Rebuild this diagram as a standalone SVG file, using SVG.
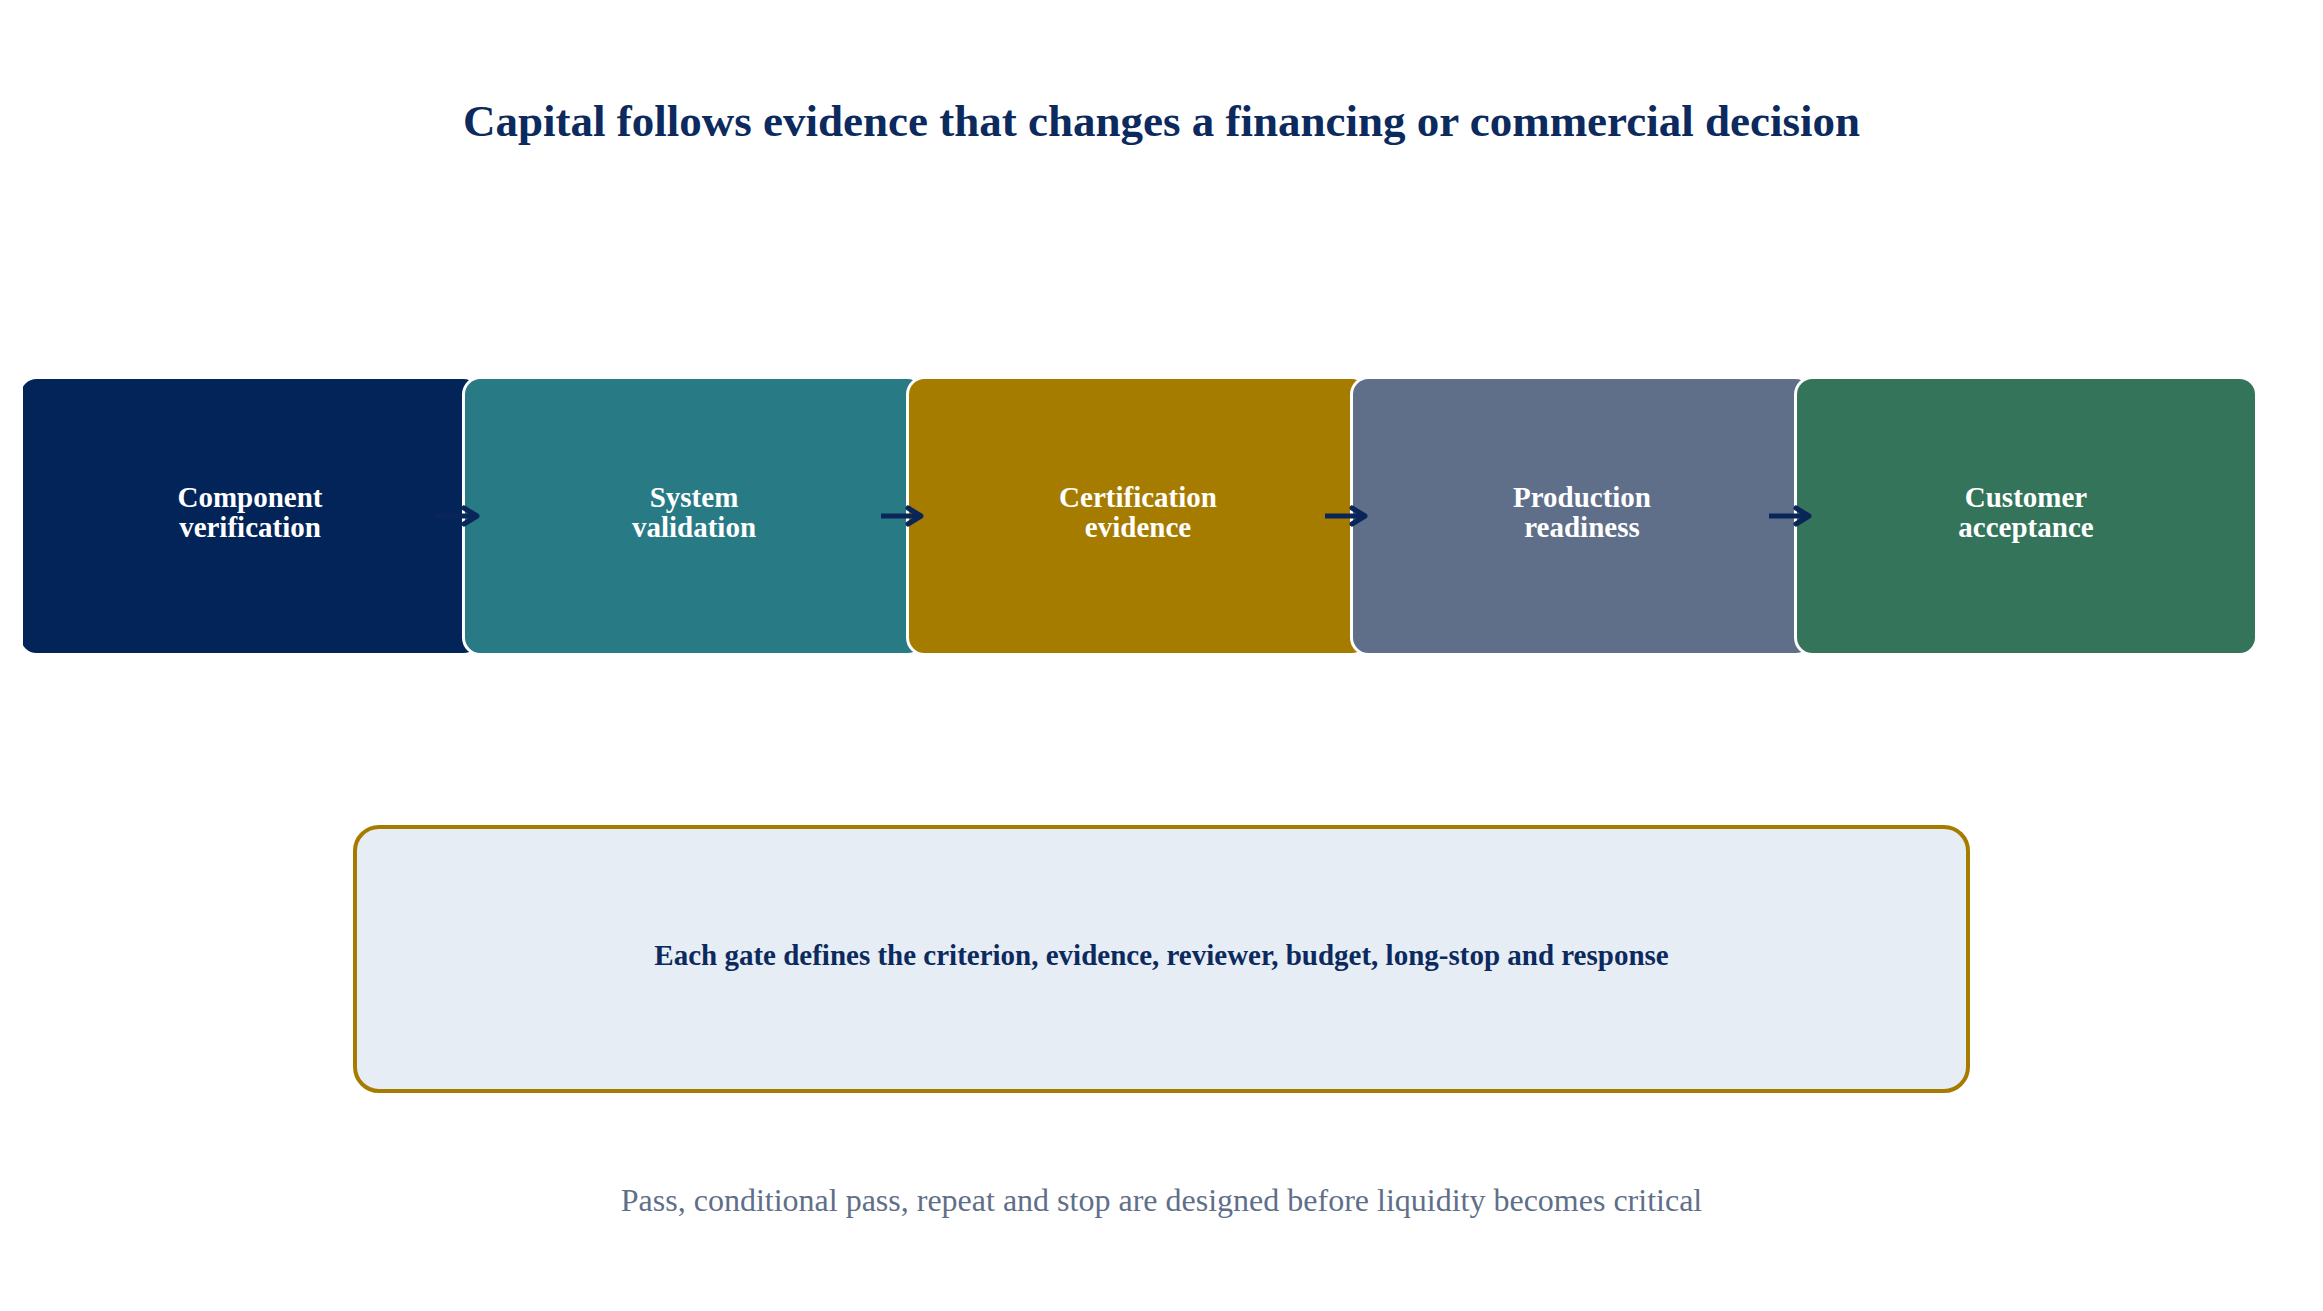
<svg xmlns="http://www.w3.org/2000/svg" width="2323" height="1311" viewBox="0 0 2323 1311">
<style>
.title{font-family:"Liberation Serif","Times New Roman",serif;font-weight:bold;font-size:45px;fill:#0c2a5e;text-anchor:middle}
.stage{stroke:#ffffff;stroke-width:3}
.lbl{font-family:"Liberation Serif","Times New Roman",serif;font-weight:bold;font-size:29px;fill:#ffffff;text-anchor:middle}
.gate{font-family:"Liberation Serif","Times New Roman",serif;font-weight:bold;font-size:29px;fill:#0c2a5e;text-anchor:middle}
.foot{font-family:"Liberation Serif","Times New Roman",serif;font-size:32px;fill:#5f6f8a;text-anchor:middle}
.conn{stroke:#0a2558;stroke-width:5;fill:none}
</style>
<defs>
<clipPath id="clipL"><rect x="23" y="0" width="2300" height="1311"/></clipPath>
<marker id="chev" markerUnits="userSpaceOnUse" markerWidth="30" markerHeight="30" viewBox="0 0 30 30" refX="20" refY="15" orient="auto">
<polyline points="6,7 19,15 6,23" fill="none" stroke="#0a2558" stroke-width="5" stroke-linecap="round" stroke-linejoin="round"/>
</marker>
</defs>
<rect width="2323" height="1311" fill="#ffffff"/>
<text class="title" x="1161.5" y="136">Capital follows evidence that changes a financing or commercial decision</text>
<g id="node-component" clip-path="url(#clipL)">
<rect class="stage" x="19.5" y="377.5" width="461" height="277" rx="17" fill="#022458"/>
<text class="lbl" x="250" y="507">Component</text>
<text class="lbl" x="250" y="537">verification</text>
</g>
<g id="node-system">
<rect class="stage" x="463.5" y="377.5" width="461" height="277" rx="17" fill="#287b85"/>
<text class="lbl" x="694" y="507">System</text>
<text class="lbl" x="694" y="537">validation</text>
</g>
<g id="node-certification">
<rect class="stage" x="907.5" y="377.5" width="461" height="277" rx="17" fill="#a67c00"/>
<text class="lbl" x="1138" y="507">Certification</text>
<text class="lbl" x="1138" y="537">evidence</text>
</g>
<g id="node-production">
<rect class="stage" x="1351.5" y="377.5" width="461" height="277" rx="17" fill="#5f6f89"/>
<text class="lbl" x="1582" y="507">Production</text>
<text class="lbl" x="1582" y="537">readiness</text>
</g>
<g id="node-customer">
<rect class="stage" x="1795.5" y="377.5" width="461" height="277" rx="17" fill="#34745a"/>
<text class="lbl" x="2026" y="507">Customer</text>
<text class="lbl" x="2026" y="537">acceptance</text>
</g>
<g id="connectors">
<line class="conn" x1="437" y1="516" x2="478" y2="516" marker-end="url(#chev)"/>
<line class="conn" x1="881" y1="516" x2="922" y2="516" marker-end="url(#chev)"/>
<line class="conn" x1="1325" y1="516" x2="1366" y2="516" marker-end="url(#chev)"/>
<line class="conn" x1="1769" y1="516" x2="1810" y2="516" marker-end="url(#chev)"/>
</g>
<g id="node-gate">
<rect x="355" y="827" width="1613" height="264" rx="24" fill="#e6edf5" stroke="#a67c00" stroke-width="4"/>
<text class="gate" x="1161.5" y="965">Each gate defines the criterion, evidence, reviewer, budget, long-stop and response</text>
</g>
<text class="foot" x="1161.5" y="1211">Pass, conditional pass, repeat and stop are designed before liquidity becomes critical</text>
</svg>
